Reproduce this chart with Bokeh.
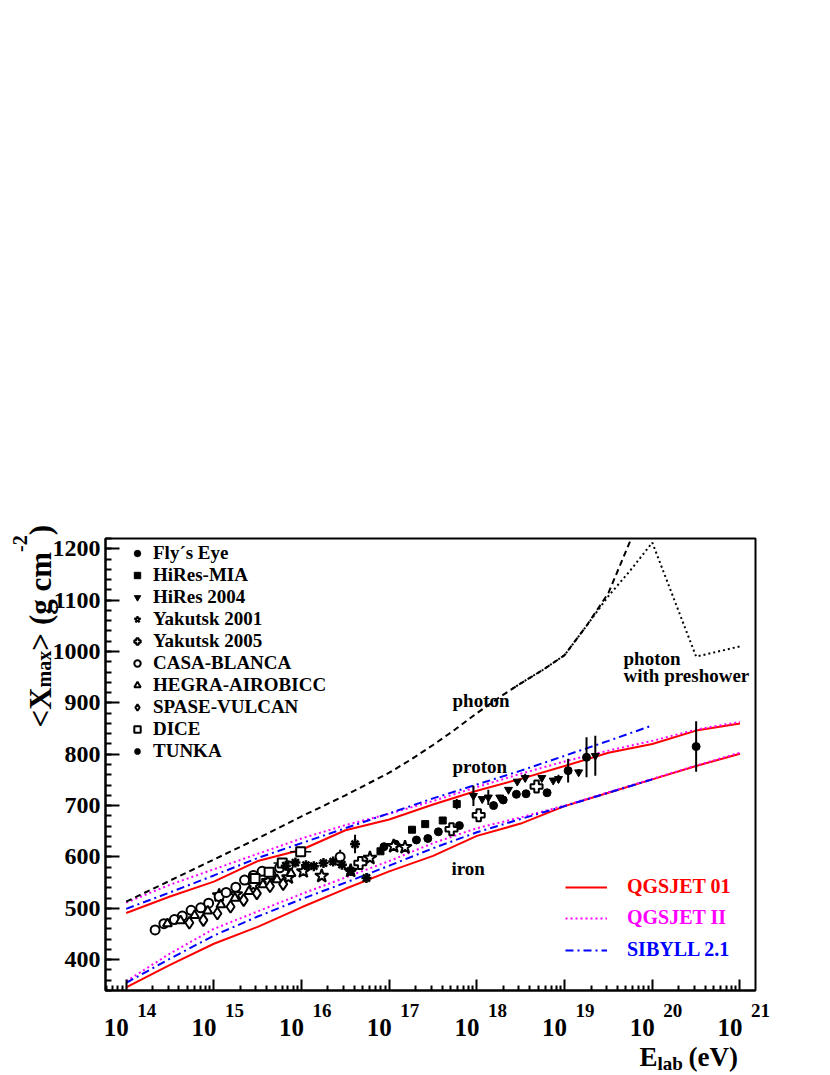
import math
from bokeh.plotting import figure
from bokeh.layouts import column
from bokeh.models import Range1d, FixedTicker, Legend, LegendItem, Label
from bokeh.embed import file_html
from bokeh.resources import INLINE

# ---------------- data (energies as log10(E/eV), depths in g cm^-2) ----------------
CURVE_LOGE = [14.0, 14.5, 15.0, 15.5, 16.0, 16.5, 17.0, 17.5, 18.0, 18.5, 19.0, 19.5, 20.0, 20.5, 21.0]
QGSJET01_P = [491, 523, 552, 592, 614, 652, 673, 702, 729, 752, 777, 803, 820, 846, 860]
QGSJET01_FE = [346, 390, 431, 464, 502, 538, 572, 602, 641, 665, 699, 725, 751, 777, 801]
QGSJETII_P = [511, 546, 576, 606, 636, 662, 684, 709, 736, 762, 786, 807, 826, 848, 863]
QGSJETII_FE = [358, 412, 460, 494, 528, 560, 592, 627, 656, 677, 700, 726, 752, 778, 803]
SIBYLL_LOGE = [14.0, 14.5, 15.0, 15.5, 16.0, 16.5, 17.0, 17.5, 18.0, 18.5, 19.0, 19.5, 20.0]
SIBYLL_P = [499, 531, 564, 598, 627, 656, 685, 714, 741, 768, 797, 826, 856]
SIBYLL_FE = [355, 402, 447, 484, 518, 550, 583, 617, 648, 674, 699, 725, 751]
PHOTON_LOGE = [14.0, 14.5, 15.0, 15.5, 16.0, 16.5, 17.0, 17.25, 17.5, 17.75, 18.0, 18.25, 18.5,
               18.75, 19.0, 19.25, 19.5, 19.75, 19.85]
PHOTON_X = [513, 554, 595, 636, 679, 720, 764, 790, 818, 848, 880, 910, 938, 964, 993, 1050,
            1114, 1216, 1262]
PRESHOWER_LOGE = [18.4, 18.5, 18.75, 19.0, 19.25, 19.5, 19.75, 20.0, 20.5, 21.0]
PRESHOWER_X = [927, 938, 964, 993, 1050, 1108, 1158, 1212, 990, 1010]

FE_LOGE = [16.94, 17.07, 17.31, 17.44, 17.56, 17.80, 18.19, 18.30, 18.45, 18.56, 18.80, 19.04, 19.25, 20.50]
FE_X = [620, 625, 633, 636, 649, 661, 700, 711, 722, 723, 725, 768, 794, 815]
FE_ERR = [0, 0, 0, 0, 0, 0, 0, 0, 0, 0, 0, 23, 39, 49]

HM_LOGE = [16.90, 17.26, 17.41, 17.61, 17.77]
HM_X = [611, 653, 664, 671, 703]
HM_ERR = [0, 0, 0, 6, 10]

HR_LOGE = [17.96, 18.06, 18.13, 18.26, 18.36, 18.46, 18.55, 18.74, 18.87, 18.93, 19.16, 19.35]
HR_X = [719, 713, 716, 716, 731, 747, 754, 754, 749, 752, 765, 797]
HR_ERR = [20, 0, 15, 5, 5, 5, 8, 5, 5, 8, 6, 39]

Y01_LOGE = [15.06, 15.25, 15.45, 15.62, 15.85, 16.02, 16.23, 16.56, 16.78, 17.05, 17.18]
Y01_X = [525, 527, 545, 553, 560, 572, 563, 573, 598, 621, 619]
Y01_ERR = [10, 0, 0, 0, 0, 0, 0, 0, 0, 0, 0]

Y05_LOGE = [16.67, 17.71, 18.02, 18.68]
Y05_X = [588, 654, 681, 737]

CB_LOGE = [14.33, 14.43, 14.55, 14.64, 14.74, 14.85, 14.94, 15.06, 15.14, 15.25, 15.35, 15.45, 15.55, 15.65, 15.75, 15.85, 16.44]
CB_X = [458, 470, 478, 485, 496, 501, 510, 523, 531, 541, 555, 564, 572, 566, 579, 583, 600]
CB_ERR = [0, 0, 0, 0, 0, 0, 0, 0, 0, 0, 0, 0, 0, 0, 0, 0, 14]

HG_LOGE = [14.47, 14.62, 14.78, 14.93, 15.08, 15.24, 15.40, 15.56, 15.72, 15.88]
HG_X = [470, 476, 486, 495, 507, 520, 533, 546, 556, 568]

SV_LOGE = [14.72, 14.88, 15.04, 15.19, 15.34, 15.49, 15.64, 15.79]
SV_X = [472, 477, 490, 503, 516, 529, 543, 547]

DI_LOGE = [15.47, 15.63, 15.78, 15.99]
DI_X = [558, 570, 588, 610]
DI_XERR = [0, 0, 0.1, 0.12]

TU_LOGE = [15.82, 15.93, 16.05, 16.14, 16.25, 16.36, 16.46, 16.56, 16.61, 16.74]
TU_X = [583, 589, 584, 582, 588, 591, 585, 573, 625, 559]
TU_ERR = [0, 0, 0, 0, 0, 0, 0, 10, 18, 0]

X_DECADES = [14, 15, 16, 17, 18, 19, 20, 21]
Y_TICKS = [400, 500, 600, 700, 800, 900, 1000, 1100, 1200]

# ---------------- figure ----------------
XMIN, XMAX = 13.764, 21.177
YMIN, YMAX = 340, 1220
FONT = "Liberation Serif"
W_PAGE, H_PAGE = 830, 1075
FRAME_L, FRAME_R, FRAME_T, FRAME_B = 105, 755, 538, 990  # page position of the plot frame

p = figure(width=W_PAGE, height=H_PAGE, x_axis_type="log",
           x_range=Range1d(10 ** XMIN, 10 ** XMAX), y_range=Range1d(YMIN, YMAX),
           output_backend="svg", toolbar_location=None,
           min_border_left=FRAME_L, min_border_right=W_PAGE - FRAME_R,
           min_border_top=FRAME_T, min_border_bottom=H_PAGE - FRAME_B)
p.frame_align = False
p.background_fill_color = "white"
p.border_fill_color = "white"
p.outline_line_color = "black"
p.outline_line_width = 2
p.xgrid.grid_line_color = None
p.ygrid.grid_line_color = None

p.xaxis.ticker = FixedTicker(ticks=[10.0 ** e for e in X_DECADES],
                             minor_ticks=[k * 10.0 ** e for e in range(13, 21) for k in range(2, 10)])
p.xaxis.major_tick_in = 11
p.xaxis.major_tick_out = 0
p.xaxis.minor_tick_in = 5
p.xaxis.minor_tick_out = 0
p.xaxis.major_label_text_font_size = "10px"
p.xaxis.major_label_text_color = None
p.yaxis.ticker = FixedTicker(ticks=Y_TICKS, minor_ticks=list(range(YMIN, YMAX + 1, 20)))
p.yaxis.major_tick_in = 14
p.yaxis.major_tick_out = 0
p.yaxis.minor_tick_in = 6
p.yaxis.minor_tick_out = 0
p.yaxis.major_label_standoff = 5
p.yaxis.major_label_text_font = FONT
p.yaxis.major_label_text_font_style = "bold"
p.yaxis.major_label_text_font_size = "24px"
p.yaxis.major_label_text_color = "black"
for ax in (p.xaxis, p.yaxis):
    ax.axis_line_width = 2
    ax.major_tick_line_width = 2
    ax.minor_tick_line_width = 2
    ax.axis_line_color = "black"


def E(logs):
    return [10.0 ** v for v in logs]


# ---------------- model curves ----------------
r_q1 = p.line(E(CURVE_LOGE), QGSJET01_P, line_color="#ff0000", line_width=2)
p.line(E(CURVE_LOGE), QGSJET01_FE, line_color="#ff0000", line_width=2)
r_q2 = p.line(E(CURVE_LOGE), QGSJETII_P, line_color="#ff00ff", line_width=2, line_dash="2 3")
p.line(E(CURVE_LOGE), QGSJETII_FE, line_color="#ff00ff", line_width=2, line_dash="2 3")
r_sb = p.line(E(SIBYLL_LOGE), SIBYLL_P, line_color="#0000ff", line_width=2, line_dash="8 4 2 4")
p.line(E(SIBYLL_LOGE), SIBYLL_FE, line_color="#0000ff", line_width=2, line_dash="8 4 2 4")
p.line(E(PHOTON_LOGE), PHOTON_X, line_color="black", line_width=2, line_dash="6 4")
p.line(E(PRESHOWER_LOGE), PRESHOWER_X, line_color="black", line_width=2, line_dash="2 3")


# ---------------- data ----------------
def errbars(loge, xs, errs):
    pts = [(l, x, e) for l, x, e in zip(loge, xs, errs) if e > 0]
    if pts:
        p.segment([10 ** a for a, _, _ in pts], [b - c for _, b, c in pts],
                  [10 ** a for a, _, _ in pts], [b + c for _, b, c in pts],
                  line_color="black", line_width=2)


errbars(FE_LOGE, FE_X, FE_ERR)
errbars(HM_LOGE, HM_X, HM_ERR)
errbars(HR_LOGE, HR_X, HR_ERR)
errbars(Y01_LOGE, Y01_X, Y01_ERR)
errbars(CB_LOGE, CB_X, CB_ERR)
errbars(TU_LOGE, TU_X, TU_ERR)
di_h = [(l, x, e) for l, x, e in zip(DI_LOGE, DI_X, DI_XERR) if e > 0]
p.segment([10 ** (a - c) for a, _, c in di_h], [b for _, b, _ in di_h],
          [10 ** (a + c) for a, _, c in di_h], [b for _, b, _ in di_h],
          line_color="black", line_width=1.5)

r_fe = p.scatter(E(FE_LOGE), FE_X, marker="circle", size=8, fill_color="black", line_color="black")
r_hm = p.scatter(E(HM_LOGE), HM_X, marker="square", size=7, fill_color="black", line_color="black")
r_hr = p.scatter(E(HR_LOGE), HR_X, marker="inverted_triangle", size=8, fill_color="black", line_color="black")
r_y01 = p.scatter(E(Y01_LOGE), Y01_X, marker="star", size=14, fill_color="white", line_color="black", line_width=2)
r_y05 = p.scatter(E(Y05_LOGE), Y05_X, marker="plus", size=12, fill_color="white", line_color="black", line_width=2)
r_cb = p.scatter(E(CB_LOGE), CB_X, marker="circle", size=9, fill_color="white", line_color="black", line_width=2)
r_hg = p.scatter(E(HG_LOGE), HG_X, marker="triangle", size=9, fill_color="white", line_color="black", line_width=2)
r_sv = p.scatter(E(SV_LOGE), SV_X, marker="diamond", size=12, fill_color="white", line_color="black", line_width=2)
r_di = p.scatter(E(DI_LOGE), DI_X, marker="square", size=9, fill_color="white", line_color="black", line_width=2)
r_tu = p.scatter(E(TU_LOGE), TU_X, marker="asterisk", size=10, line_color="black", line_width=2.5)

# ---------------- legends ----------------
data_items = [("Fly\u00b4s Eye", r_fe), ("HiRes-MIA", r_hm), ("HiRes 2004", r_hr),
              ("Yakutsk 2001", r_y01), ("Yakutsk 2005", r_y05), ("CASA-BLANCA", r_cb),
              ("HEGRA-AIROBICC", r_hg), ("SPASE-VULCAN", r_sv), ("DICE", r_di), ("TUNKA", r_tu)]
leg = Legend(items=[LegendItem(label=n, renderers=[r]) for n, r in data_items],
             location=(24, 228), glyph_width=16, glyph_height=20, label_height=20,
             spacing=0, padding=0, margin=0, label_standoff=8,
             label_text_font=FONT, label_text_font_style="bold", label_text_font_size="19px",
             label_text_color="black", border_line_color=None, background_fill_alpha=0)
p.add_layout(leg)

for name, r, color, yc in [("QGSJET 01", r_q1, "#ff0000", 888),
                           ("QGSJET II", r_q2, "#ff00ff", 919),
                           ("SIBYLL 2.1", r_sb, "#0000ff", 951)]:
    lg = Legend(items=[LegendItem(label=name, renderers=[r])],
                location=(565 - FRAME_L, FRAME_B - (yc + 10)), glyph_width=42, glyph_height=20,
                label_height=20, spacing=0, padding=0, margin=0, label_standoff=20,
                label_text_font=FONT, label_text_font_style="bold", label_text_font_size="20px",
                label_text_color=color, border_line_color=None, background_fill_alpha=0)
    p.add_layout(lg)

# ---------------- text overlay (transparent figure in page pixels, so texts outside the frame are not clipped) ----------------
q = figure(width=W_PAGE, height=H_PAGE, x_range=Range1d(0, W_PAGE), y_range=Range1d(H_PAGE, 0),
           output_backend="svg", toolbar_location=None, x_axis_location=None, y_axis_location=None,
           min_border=0, min_border_left=0, min_border_right=0, min_border_top=0, min_border_bottom=0)
q.frame_align = False
q.xgrid.grid_line_color = None
q.ygrid.grid_line_color = None
q.outline_line_color = None
q.background_fill_alpha = 0
q.border_fill_alpha = 0
q.margin = (-H_PAGE, 0, 0, 0)


def page_label(px, py, text, size, align="left", angle=0.0, color="black"):
    q.add_layout(Label(x=px, y=py, text=text, text_font=FONT, text_font_style="bold",
                       text_font_size=f"{size}px", text_color=color, text_align=align,
                       text_baseline="alphabetic", angle=angle))


def xpix(loge):
    return FRAME_L + (loge - XMIN) * (FRAME_R - FRAME_L) / (XMAX - XMIN)


for e in X_DECADES:
    page_label(xpix(e) + 2.5, FRAME_B + 37, "10", 25, align="right")
    page_label(xpix(e) + 11, FRAME_B + 20, str(e), 19)

# y-axis title, rotated, built from pieces (gap = blank space before the piece)
W = {' ': 250, '(': 333, ')': 333, '<': 570, '>': 570, 'X': 722, 'm': 833, 'a': 500, 'x': 500,
     'g': 500, 'c': 444, '-': 333, '2': 500}


def tw(s, size):
    return sum(W[c] for c in s) * size / 1000.0


ypos = 727
for txt, size, base, gap in [("<X", 31, 40, 0), ("max", 20, 43, 0), (">", 31, 40, 0),
                             ("(g cm", 31, 40, 8), ("-2", 20, 19, 0), (")", 31, 40, 0)]:
    ypos -= gap
    page_label(base, ypos, txt, size, angle=math.pi / 2)
    ypos -= tw(txt, size)

# x-axis title
page_label(639, 1056, "E", 27)
page_label(657, 1063, "lab", 19)
page_label(688, 1056, "(eV)", 27)

# curve annotations
page_label(452, 700, "photon", 19)
page_label(452, 766, "proton", 19)
page_label(451, 868, "iron", 19)
page_label(623, 658, "photon", 19)
page_label(623, 675, "with preshower", 19)

layout = column(p, q, spacing=0)
open("out.html", "w").write(file_html(layout, INLINE))
